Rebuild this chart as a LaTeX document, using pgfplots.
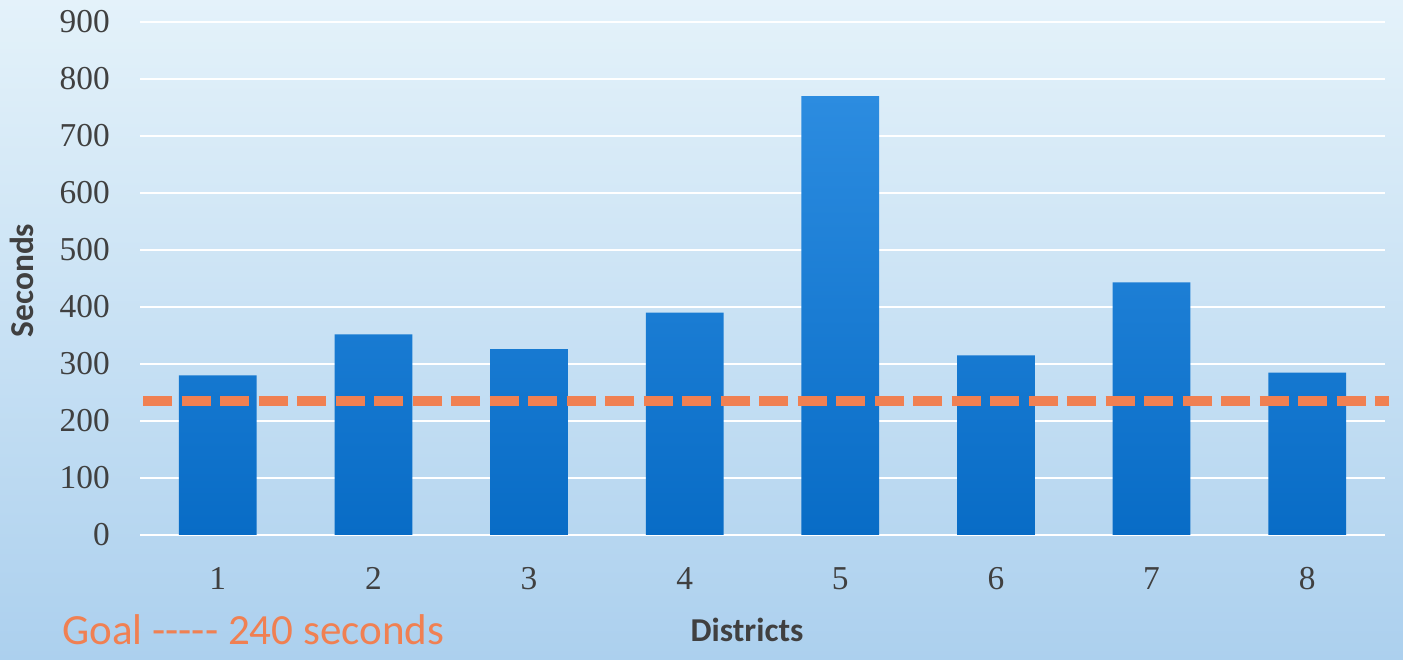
\documentclass[border=0pt]{standalone}
\usepackage{fontspec}
\setmainfont{Liberation Serif}
\newfontfamily\calibri{Carlito}
\usepackage{pgfplots}
\pgfplotsset{compat=1.18}
\definecolor{bgtop}{RGB}{228,242,250}
\definecolor{bgbot}{RGB}{172,208,238}
\definecolor{bartop}{RGB}{44,140,224}
\definecolor{barbot}{RGB}{8,108,198}
\definecolor{goal}{RGB}{240,128,82}
\definecolor{txt}{RGB}{64,64,64}
\begin{document}
\begin{tikzpicture}
\useasboundingbox (0,0) rectangle (28.06,13.2);
% light blue backdrop, paler at the top
\shade[top color=bgtop, bottom color=bgbot] (0,0) rectangle (28.06,13.2);
\begin{axis}[
  at={(2.8cm,2.5cm)}, anchor=south west,
  scale only axis, width=24.9cm, height=10.26cm,
  xmin=0.5, xmax=8.5, ymin=0, ymax=900,
  xtick={1,...,8}, ytick={0,100,...,900},
  axis line style={draw=none}, major tick length=0pt,
  ymajorgrids, grid style={white, line width=1pt},
  tick label style={font=\fontsize{19}{19}\selectfont, text=txt},
  /pgf/number format/assume math mode=true,
  yticklabel style={xshift=-0.48cm},
  xticklabel style={yshift=-0.52cm},
  xlabel={Districts}, ylabel={Seconds},
  label style={font=\calibri\bfseries\fontsize{19}{19}\selectfont, text=txt},
  xlabel style={at={(axis description cs:0.4876,-0.185)}, anchor=center},
  ylabel style={at={(axis description cs:-0.0948,0.496)}, anchor=center},
  clip=false,
]
\addplot[ybar, bar width=0.5, draw=none, top color=bartop, bottom color=barbot]
  coordinates {(1,280)(2,352)(3,326)(4,390)(5,770)(6,315)(7,443)(8,285)};
% goal line
\addplot[goal, line width=0.2cm, dash pattern=on 0.58cm off 0.19cm]
  coordinates {(0.52,235)(8.527,235)};
\end{axis}
\node[anchor=base west, text=goal, inner sep=0pt,
  font=\calibri\fontsize{24.5}{25}\selectfont] at (1.24,0.3)
  {Goal -{}-{}-{}-{}- 240 seconds};
\end{tikzpicture}
\end{document}
